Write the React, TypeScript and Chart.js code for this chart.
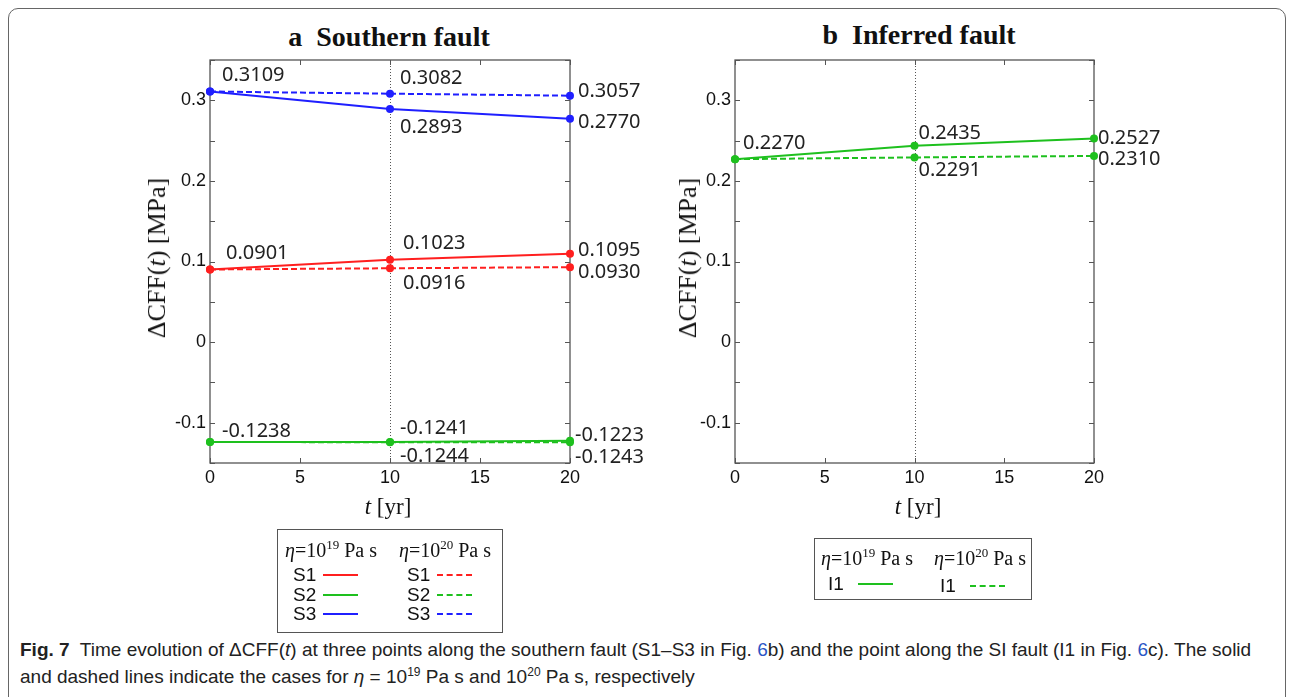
import React, { useEffect, useRef } from 'react';
import { Chart, registerables } from 'chart.js';
Chart.register(...registerables);

// ---------- data ----------
const years = [0, 10, 20];
const s1Eta19 = [0.0901, 0.1023, 0.1095];
const s1Eta20 = [0.0901, 0.0916, 0.093];
const s2Eta19 = [-0.1238, -0.1241, -0.1223];
const s2Eta20 = [-0.1238, -0.1244, -0.1243];
const s3Eta19 = [0.3109, 0.2893, 0.277];
const s3Eta20 = [0.3109, 0.3082, 0.3057];
const i1Eta19 = [0.227, 0.2435, 0.2527];
const i1Eta20 = [0.227, 0.2291, 0.231];
const labeledYTicks = [-0.1, 0, 0.1, 0.2, 0.3];
const xRange = [0, 20];
const xStep = 5;
const yRange = [-0.15, 0.35];
const yStep = 0.05;
const markerYear = 10;

// ---------- styles ----------
const RED = '#ff1f1f';
const GREEN = '#1ec01e';
const BLUE = '#1f1fff';
const TICK_FONT = { family: "'Liberation Sans', Arial, sans-serif", size: 18 };
const LABEL_FONT = "20px 'Noto Sans', 'Open Sans', sans-serif";

type LabelSpec = { ds: number; i: number; dx: number; dy: number };

const toPts = (arr: number[]) => years.map((x, i) => ({ x, y: arr[i] }));

function ds(label: string, arr: number[], color: string, dashed: boolean) {
  return {
    label,
    data: toPts(arr),
    borderColor: color,
    backgroundColor: color,
    borderWidth: 2,
    borderDash: dashed ? [6, 3] : [],
    pointRadius: 4,
    pointBackgroundColor: color,
    pointBorderWidth: 0,
    pointHoverRadius: 4,
    tension: 0,
    clip: false as any,
  };
}

const framePlugin = {
  id: 'frame',
  beforeDatasetsDraw(chart: any) {
    const { ctx, chartArea: a, scales } = chart;
    ctx.save();
    const xm = Math.round(scales.x.getPixelForValue(markerYear)) + 0.5;
    ctx.strokeStyle = '#555';
    ctx.lineWidth = 1;
    ctx.setLineDash([1, 2]);
    ctx.beginPath();
    ctx.moveTo(xm, a.top);
    ctx.lineTo(xm, a.bottom);
    ctx.stroke();
    ctx.setLineDash([]);
    ctx.strokeStyle = '#555';
    ctx.lineWidth = 1.3;
    ctx.strokeRect(a.left, a.top, a.right - a.left, a.bottom - a.top);
    ctx.lineWidth = 1;
    const tl = 5;
    ctx.beginPath();
    for (const t of scales.y.ticks) {
      const y = Math.round(scales.y.getPixelForValue(t.value)) + 0.5;
      ctx.moveTo(a.left, y);
      ctx.lineTo(a.left + tl, y);
      ctx.moveTo(a.right, y);
      ctx.lineTo(a.right - tl, y);
    }
    for (const t of scales.x.ticks) {
      const x = Math.round(scales.x.getPixelForValue(t.value)) + 0.5;
      ctx.moveTo(x, a.bottom);
      ctx.lineTo(x, a.bottom - tl);
      ctx.moveTo(x, a.top);
      ctx.lineTo(x, a.top + tl);
    }
    ctx.stroke();
    ctx.restore();
  },
};

function makeLabelPlugin(specs: LabelSpec[]) {
  return {
    id: 'pointLabels',
    afterDatasetsDraw(chart: any) {
      const { ctx } = chart;
      ctx.save();
      ctx.font = LABEL_FONT;
      ctx.fillStyle = '#222';
      ctx.textAlign = 'left';
      ctx.textBaseline = 'middle';
      for (const s of specs) {
        const el = chart.getDatasetMeta(s.ds).data[s.i];
        const v = chart.data.datasets[s.ds].data[s.i].y as number;
        ctx.fillText(v.toFixed(4), el.x + s.dx, el.y + s.dy);
      }
      ctx.restore();
    },
  };
}

function makeConfig(datasets: any[], specs: LabelSpec[], yWidth: number, padRight: number) {
  return {
    type: 'line' as const,
    data: { datasets },
    options: {
      animation: false as const,
      responsive: false,
      devicePixelRatio: 1,
      events: [],
      layout: { padding: { top: 20, right: padRight, left: 0, bottom: 0 } },
      plugins: { legend: { display: false }, tooltip: { enabled: false } },
      scales: {
        x: {
          type: 'linear' as const,
          min: xRange[0],
          max: xRange[1],
          ticks: { stepSize: xStep, padding: 4, font: TICK_FONT, color: '#111', maxRotation: 0, autoSkip: false },
          grid: { display: false, drawTicks: false },
          border: { display: false },
          afterFit: (s: any) => { s.height = 47; },
        },
        y: {
          type: 'linear' as const,
          min: yRange[0],
          max: yRange[1],
          ticks: {
            stepSize: yStep,
            padding: 4,
            font: TICK_FONT,
            color: '#111',
            autoSkip: false,
            callback: (v: any) => {
              const hit = labeledYTicks.find((t) => Math.abs(t - v) < 1e-6);
              return hit === undefined ? '' : String(hit);
            },
          },
          grid: { display: false, drawTicks: false },
          border: { display: false },
          afterFit: (s: any) => { s.width = yWidth; },
        },
      },
    },
    plugins: [framePlugin, makeLabelPlugin(specs)],
  };
}

const specsA: LabelSpec[] = [
  { ds: 5, i: 0, dx: 12, dy: -16 },
  { ds: 5, i: 1, dx: 10, dy: -15 },
  { ds: 5, i: 2, dx: 8, dy: -4 },
  { ds: 4, i: 1, dx: 10, dy: 18 },
  { ds: 4, i: 2, dx: 8, dy: 3 },
  { ds: 0, i: 0, dx: 16, dy: -16 },
  { ds: 0, i: 1, dx: 13, dy: -16 },
  { ds: 0, i: 2, dx: 8, dy: -4 },
  { ds: 1, i: 1, dx: 13, dy: 15 },
  { ds: 1, i: 2, dx: 8, dy: 5 },
  { ds: 2, i: 0, dx: 12, dy: -11 },
  { ds: 2, i: 1, dx: 10, dy: -14 },
  { ds: 3, i: 1, dx: 10, dy: 14 },
  { ds: 2, i: 2, dx: 5, dy: -5 },
  { ds: 3, i: 2, dx: 5, dy: 15 },
];

const specsB: LabelSpec[] = [
  { ds: 0, i: 0, dx: 8, dy: -16 },
  { ds: 0, i: 1, dx: 4, dy: -13 },
  { ds: 1, i: 1, dx: 4, dy: 13 },
  { ds: 0, i: 2, dx: 4, dy: 0 },
  { ds: 1, i: 2, dx: 4, dy: 3 },
];

function ChartCanvas({ config, left, top, width, height }: any) {
  const ref = useRef<HTMLCanvasElement | null>(null);
  useEffect(() => {
    if (!ref.current) return;
    const c = new Chart(ref.current, config);
    return () => c.destroy();
  }, []);
  return (
    <canvas
      ref={ref}
      width={width}
      height={height}
      style={{ position: 'absolute', left, top, width, height }}
    />
  );
}

const serif = "'Liberation Serif', 'Times New Roman', serif";
const sans = "'Liberation Sans', Arial, sans-serif";

function EtaLabel({ exp }: { exp: string }) {
  return (
    <span style={{ fontFamily: serif, fontSize: 20, whiteSpace: 'nowrap', color: '#111' }}>
      <i>η</i>=10<sup style={{ fontSize: 13, verticalAlign: 0, position: 'relative', top: -8 }}>{exp}</sup> Pa s
    </span>
  );
}

function LegendRow({ name, color, dashed, x, y }: any) {
  return (
    <div style={{ position: 'absolute', left: x, top: y - 11, height: 22, display: 'flex', alignItems: 'center', fontFamily: sans, fontSize: 19, color: '#111' }}>
      <span style={{ width: 30 }}>{name}</span>
      <span style={{ display: 'inline-block', width: 35, borderTop: `2px ${dashed ? 'dashed' : 'solid'} ${color}` }} />
    </div>
  );
}

export default function App() {
  const dsA = [
    ds('S1 η=1e19', s1Eta19, RED, false),
    ds('S1 η=1e20', s1Eta20, RED, true),
    ds('S2 η=1e19', s2Eta19, GREEN, false),
    ds('S2 η=1e20', s2Eta20, GREEN, true),
    ds('S3 η=1e19', s3Eta19, BLUE, false),
    ds('S3 η=1e20', s3Eta20, BLUE, true),
  ];
  const dsB = [
    ds('I1 η=1e19', i1Eta19, GREEN, false),
    ds('I1 η=1e20', i1Eta20, GREEN, true),
  ];
  const cfgA = makeConfig(dsA, specsA, 110, 90);
  const cfgB = makeConfig(dsB, specsB, 105, 96);

  const titleStyle: any = { position: 'absolute', width: 400, textAlign: 'center', fontFamily: serif, fontWeight: 'bold', fontSize: 28, lineHeight: '32px', color: '#111' };
  const yTitle = (cx: number): any => ({ position: 'absolute', left: cx, top: 258, transform: 'translate(-50%, -50%) rotate(-90deg)', whiteSpace: 'nowrap', fontFamily: serif, fontSize: 26, color: '#111' });
  const xTitle = (cx: number): any => ({ position: 'absolute', left: cx, top: 507, transform: 'translate(-50%, -50%)', whiteSpace: 'nowrap', fontFamily: serif, fontSize: 23, color: '#111' });
  const link = { color: '#2a56c6' };
  const capSup: any = { fontSize: 12, verticalAlign: 0, position: 'relative', top: -7 };

  return (
    <div style={{ position: 'fixed', left: 0, top: 0, width: 1291, height: 697, background: '#fff', overflow: 'hidden' }}>
      <div style={{ position: 'absolute', left: 8, top: 8, width: 1278, height: 800, border: '1.5px solid #666', borderRadius: 10, boxSizing: 'border-box' }} />

      <div style={{ ...titleStyle, left: 189, top: 21 }}>a&nbsp;&nbsp;Southern fault</div>
      <div style={{ ...titleStyle, left: 719, top: 19 }}>b&nbsp;&nbsp;Inferred fault</div>

      <ChartCanvas config={cfgA} left={100} top={40} width={560} height={470} />
      <ChartCanvas config={cfgB} left={630} top={40} width={560} height={470} />

      <div style={yTitle(157)}>ΔCFF(<i>t</i>) [MPa]</div>
      <div style={yTitle(688)}>ΔCFF(<i>t</i>) [MPa]</div>
      <div style={xTitle(388)}><i>t</i> [yr]</div>
      <div style={xTitle(918)}><i>t</i> [yr]</div>

      {/* legend a */}
      <div style={{ position: 'absolute', left: 277, top: 529, width: 226, height: 104, border: '1.5px solid #555', boxSizing: 'border-box' }} />
      <div style={{ position: 'absolute', left: 285, top: 539 }}><EtaLabel exp="19" /></div>
      <div style={{ position: 'absolute', left: 399, top: 539 }}><EtaLabel exp="20" /></div>
      <LegendRow name="S1" color={RED} dashed={false} x={293} y={575} />
      <LegendRow name="S2" color={GREEN} dashed={false} x={293} y={595} />
      <LegendRow name="S3" color={BLUE} dashed={false} x={293} y={614} />
      <LegendRow name="S1" color={RED} dashed={true} x={407} y={575} />
      <LegendRow name="S2" color={GREEN} dashed={true} x={407} y={595} />
      <LegendRow name="S3" color={BLUE} dashed={true} x={407} y={614} />

      {/* legend b */}
      <div style={{ position: 'absolute', left: 814, top: 538, width: 218, height: 62, border: '1.5px solid #555', boxSizing: 'border-box' }} />
      <div style={{ position: 'absolute', left: 821, top: 547 }}><EtaLabel exp="19" /></div>
      <div style={{ position: 'absolute', left: 934, top: 547 }}><EtaLabel exp="20" /></div>
      <LegendRow name="I1" color={GREEN} dashed={false} x={828} y={584} />
      <LegendRow name="I1" color={GREEN} dashed={true} x={940} y={586} />

      {/* caption */}
      <div style={{ position: 'absolute', left: 20, top: 636, width: 1260, fontFamily: sans, fontSize: 19, lineHeight: '27px', color: '#222', whiteSpace: 'nowrap' }}>
        <div>
          <b>Fig. 7</b>&nbsp; Time evolution of ΔCFF(<i>t</i>) at three points along the southern fault (S1–S3 in Fig. <span style={link}>6</span>b) and the point along the SI fault (I1 in Fig. <span style={link}>6</span>c). The solid
        </div>
        <div>
          and dashed lines indicate the cases for <i>η</i> = 10<sup style={capSup}>19</sup> Pa s and 10<sup style={capSup}>20</sup> Pa s, respectively
        </div>
      </div>
    </div>
  );
}
